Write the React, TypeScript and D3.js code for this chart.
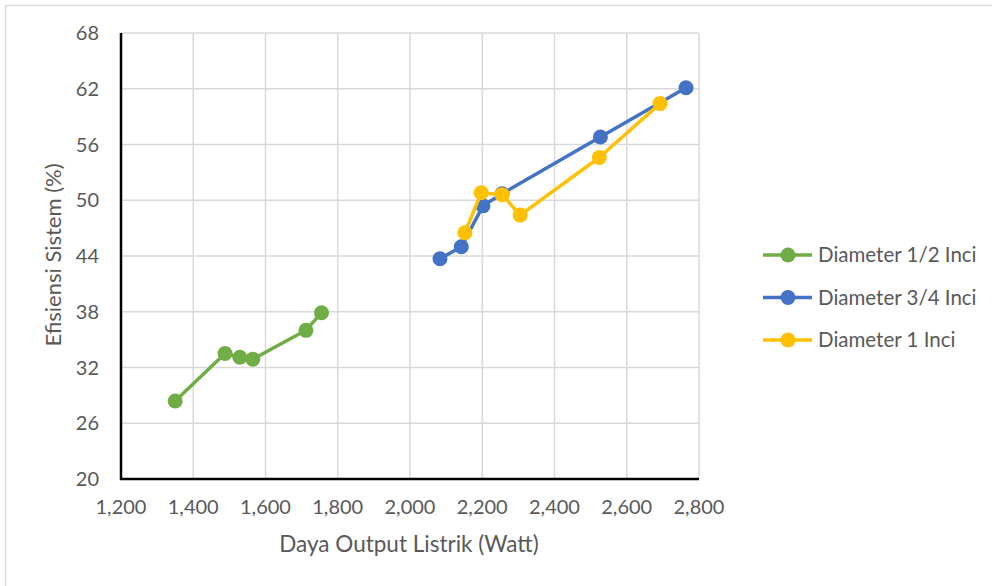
import React from "react";
import * as d3 from "d3";

// Diameter 1/2 inci
const halfInchPower = [1350, 1488, 1529, 1565, 1712, 1755];
const halfInchEff = [28.4, 33.5, 33.1, 32.9, 36.0, 37.9];

// Diameter 3/4 inci
const threeQuarterPower = [2083, 2142, 2202, 2255, 2527, 2764];
const threeQuarterEff = [43.7, 45.0, 49.4, 50.7, 56.8, 62.1];

// Diameter 1 inci
const oneInchPower = [2152, 2197, 2255, 2305, 2524, 2692];
const oneInchEff = [46.5, 50.8, 50.6, 48.4, 54.6, 60.4];

const seriesNames = ["Diameter 1/2 Inci", "Diameter 3/4 Inci", "Diameter 1 Inci"];
const seriesColors = ["#70AD47", "#4472C4", "#FFC000"];

const xTicks = [1200, 1400, 1600, 1800, 2000, 2200, 2400, 2600, 2800];
const yTicks = [20, 26, 32, 38, 44, 50, 56, 62, 68];

const xTitle = "Daya Output Listrik (Watt)";
const yTitle = "Efisiensi Sistem (%)";

const W = 992;
const H = 586;
const plot = { left: 121, right: 699, top: 33, bottom: 479 };
const FONT = "Lato, 'Open Sans', sans-serif";
const TEXT = "#595959";

export default function App() {
  const x = d3.scaleLinear().domain([1200, 2800]).range([plot.left, plot.right]);
  const y = d3.scaleLinear().domain([20, 68]).range([plot.bottom, plot.top]);

  const series = [
    { name: seriesNames[0], color: seriesColors[0], px: halfInchPower, py: halfInchEff },
    { name: seriesNames[1], color: seriesColors[1], px: threeQuarterPower, py: threeQuarterEff },
    { name: seriesNames[2], color: seriesColors[2], px: oneInchPower, py: oneInchEff },
  ];

  const line = d3
    .line<[number, number]>()
    .x((d) => x(d[0]))
    .y((d) => y(d[1]));

  const fmt = d3.format(",");
  const legendY = [255, 297.5, 340];

  return (
    <svg
      width={W}
      height={H}
      style={{ position: "absolute", left: 0, top: 0, background: "#fff" }}
      fontFamily={FONT}
    >
      <rect x={5.5} y={5.5} width={W + 10} height={H + 10} fill="#fff" stroke="#D9D9D9" strokeWidth={1.5} />

      {/* gridlines */}
      {xTicks.map((t) => (
        <line key={"gx" + t} x1={x(t)} x2={x(t)} y1={plot.top} y2={plot.bottom} stroke="#D9D9D9" strokeWidth={1.5} />
      ))}
      {yTicks.map((t) => (
        <line key={"gy" + t} x1={plot.left} x2={plot.right} y1={y(t)} y2={y(t)} stroke="#D9D9D9" strokeWidth={1.5} />
      ))}

      {/* axes */}
      <line x1={plot.left} x2={plot.left} y1={plot.top} y2={plot.bottom + 1} stroke="#000" strokeWidth={2.5} />
      <line x1={plot.left - 1} x2={plot.right} y1={plot.bottom} y2={plot.bottom} stroke="#000" strokeWidth={2.5} />

      {/* tick labels */}
      {yTicks.map((t) => (
        <text key={"ty" + t} x={99} y={y(t)} dy="0.36em" textAnchor="end" fontSize={20} fill={TEXT}>
          {t}
        </text>
      ))}
      {xTicks.map((t) => (
        <text key={"tx" + t} x={x(t)} y={514} textAnchor="middle" fontSize={20} fill={TEXT}>
          {fmt(t)}
        </text>
      ))}

      {/* axis titles */}
      <text x={(plot.left + plot.right) / 2 - 1} y={552} textAnchor="middle" fontSize={22.5} fill={TEXT}>
        {xTitle}
      </text>
      <text
        transform={`translate(61, ${(plot.top + plot.bottom) / 2 - 1}) rotate(-90)`}
        textAnchor="middle"
        fontSize={22}
        fill={TEXT}
      >
        {yTitle}
      </text>

      {/* series */}
      {series.map((s) => {
        const pts = s.px.map((v, i) => [v, s.py[i]] as [number, number]);
        return (
          <g key={s.name}>
            <path d={line(pts) || ""} fill="none" stroke={s.color} strokeWidth={3.5} strokeLinejoin="round" />
            {pts.map((p, i) => (
              <circle key={i} cx={x(p[0])} cy={y(p[1])} r={7.5} fill={s.color} />
            ))}
          </g>
        );
      })}

      {/* legend */}
      {series.map((s, i) => (
        <g key={"lg" + s.name} transform={`translate(0, ${legendY[i]})`}>
          <line x1={763} x2={812} y1={0} y2={0} stroke={s.color} strokeWidth={3.5} />
          <circle cx={788} cy={0} r={7.5} fill={s.color} />
          <text x={818} y={0} dy="0.36em" fontSize={20.5} fill={TEXT}>
            {s.name}
          </text>
        </g>
      ))}
    </svg>
  );
}
